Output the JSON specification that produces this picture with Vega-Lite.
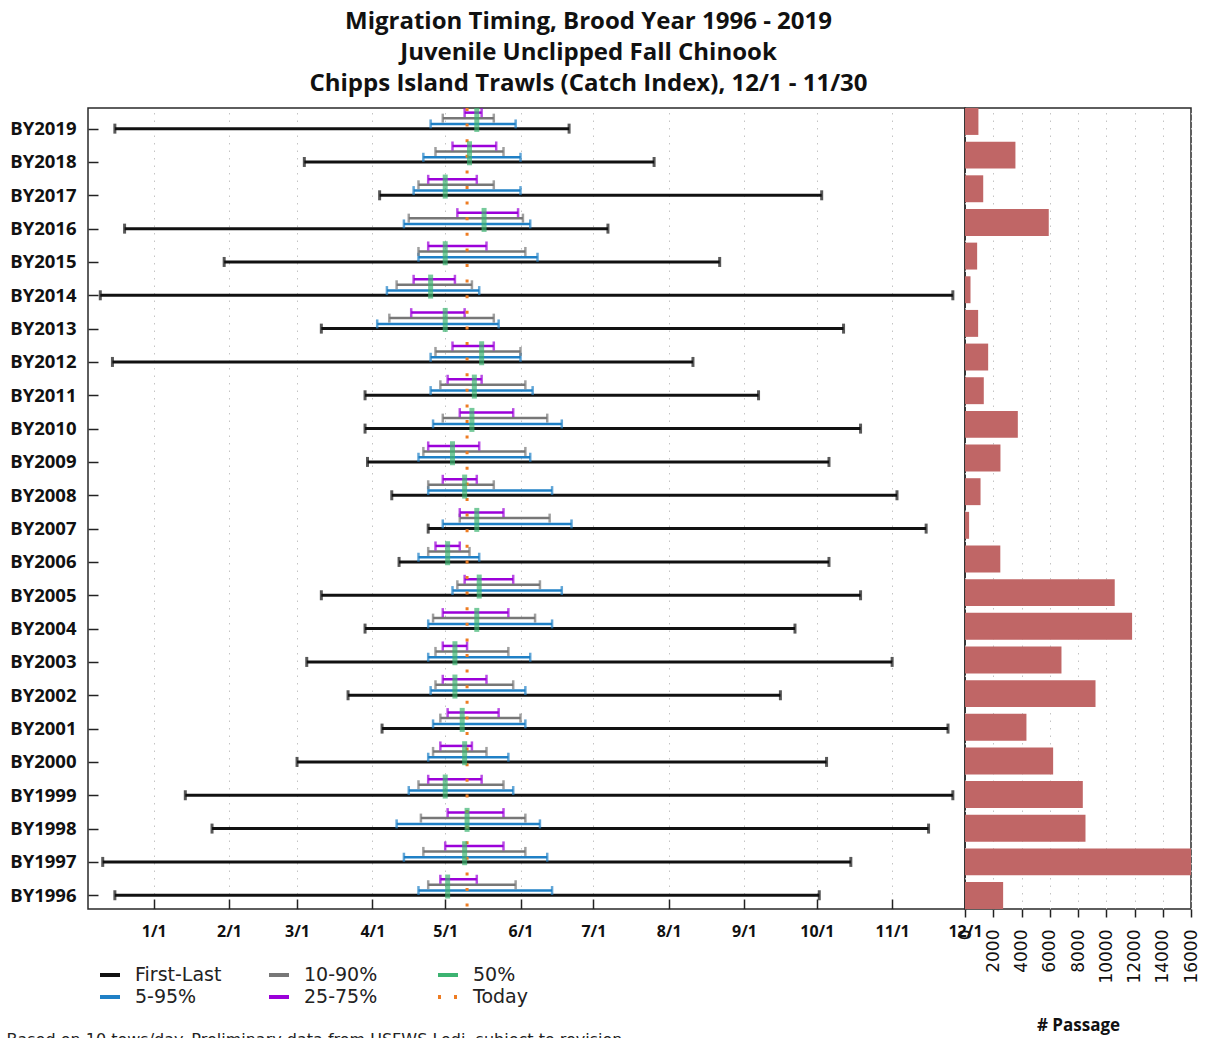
{
  "$schema": "https://vega.github.io/schema/vega-lite/v6.json",
  "padding": {"left": 5, "top": 9, "right": 5, "bottom": 5},
  "config": {
    "view": {"stroke": "#2a2a2a", "strokeWidth": 1.5},
    "font": "Open Sans",
    "axis": {"domain": false, "tickColor": "#222222", "tickWidth": 1.5, "gridColor": "#c4c4c4", "gridDash": [1.5, 6], "gridWidth": 1}
  },
  "title": {
    "text": ["Migration Timing, Brood Year 1996 - 2019", "Juvenile Unclipped Fall Chinook", "Chipps Island Trawls (Catch Index), 12/1 - 11/30"],
    "font": "Open Sans", "fontWeight": "bold", "fontSize": 24, "lineHeight": 31, "color": "#111111", "anchor": "middle", "offset": 10, "dx": -14
  },
  "datasets": {
    "timing": [
      {"by": "BY2019", "first": "2018-12-16", "last": "2019-06-21", "p5": "2019-04-25", "p95": "2019-05-30", "p10": "2019-04-30", "p90": "2019-05-21", "p25": "2019-05-09", "p75": "2019-05-16", "p50": "2019-05-14"},
      {"by": "BY2018", "first": "2019-03-04", "last": "2019-07-26", "p5": "2019-04-22", "p95": "2019-06-01", "p10": "2019-04-27", "p90": "2019-05-25", "p25": "2019-05-04", "p75": "2019-05-22", "p50": "2019-05-11"},
      {"by": "BY2017", "first": "2019-04-04", "last": "2019-10-03", "p5": "2019-04-18", "p95": "2019-06-01", "p10": "2019-04-20", "p90": "2019-05-21", "p25": "2019-04-24", "p75": "2019-05-14", "p50": "2019-05-01"},
      {"by": "BY2016", "first": "2018-12-20", "last": "2019-07-07", "p5": "2019-04-14", "p95": "2019-06-05", "p10": "2019-04-16", "p90": "2019-06-02", "p25": "2019-05-06", "p75": "2019-05-31", "p50": "2019-05-17"},
      {"by": "BY2015", "first": "2019-01-30", "last": "2019-08-22", "p5": "2019-04-20", "p95": "2019-06-08", "p10": "2019-04-20", "p90": "2019-06-03", "p25": "2019-04-24", "p75": "2019-05-18", "p50": "2019-05-01"},
      {"by": "BY2014", "first": "2018-12-10", "last": "2019-11-26", "p5": "2019-04-07", "p95": "2019-05-15", "p10": "2019-04-11", "p90": "2019-05-12", "p25": "2019-04-18", "p75": "2019-05-05", "p50": "2019-04-25"},
      {"by": "BY2013", "first": "2019-03-11", "last": "2019-10-12", "p5": "2019-04-03", "p95": "2019-05-23", "p10": "2019-04-08", "p90": "2019-05-21", "p25": "2019-04-17", "p75": "2019-05-09", "p50": "2019-05-01"},
      {"by": "BY2012", "first": "2018-12-15", "last": "2019-08-11", "p5": "2019-04-25", "p95": "2019-06-01", "p10": "2019-04-27", "p90": "2019-06-01", "p25": "2019-05-04", "p75": "2019-05-21", "p50": "2019-05-16"},
      {"by": "BY2011", "first": "2019-03-29", "last": "2019-09-07", "p5": "2019-04-25", "p95": "2019-06-06", "p10": "2019-04-29", "p90": "2019-06-03", "p25": "2019-05-02", "p75": "2019-05-16", "p50": "2019-05-13"},
      {"by": "BY2010", "first": "2019-03-29", "last": "2019-10-19", "p5": "2019-04-26", "p95": "2019-06-18", "p10": "2019-04-30", "p90": "2019-06-12", "p25": "2019-05-07", "p75": "2019-05-29", "p50": "2019-05-12"},
      {"by": "BY2009", "first": "2019-03-30", "last": "2019-10-06", "p5": "2019-04-20", "p95": "2019-06-05", "p10": "2019-04-22", "p90": "2019-06-03", "p25": "2019-04-24", "p75": "2019-05-15", "p50": "2019-05-04"},
      {"by": "BY2008", "first": "2019-04-09", "last": "2019-11-03", "p5": "2019-04-24", "p95": "2019-06-14", "p10": "2019-04-24", "p90": "2019-05-21", "p25": "2019-04-30", "p75": "2019-05-14", "p50": "2019-05-09"},
      {"by": "BY2007", "first": "2019-04-24", "last": "2019-11-15", "p5": "2019-04-30", "p95": "2019-06-22", "p10": "2019-05-07", "p90": "2019-06-13", "p25": "2019-05-07", "p75": "2019-05-25", "p50": "2019-05-14"},
      {"by": "BY2006", "first": "2019-04-12", "last": "2019-10-06", "p5": "2019-04-20", "p95": "2019-05-15", "p10": "2019-04-24", "p90": "2019-05-11", "p25": "2019-04-27", "p75": "2019-05-07", "p50": "2019-05-02"},
      {"by": "BY2005", "first": "2019-03-11", "last": "2019-10-19", "p5": "2019-05-04", "p95": "2019-06-18", "p10": "2019-05-06", "p90": "2019-06-09", "p25": "2019-05-09", "p75": "2019-05-29", "p50": "2019-05-15"},
      {"by": "BY2004", "first": "2019-03-29", "last": "2019-09-22", "p5": "2019-04-24", "p95": "2019-06-14", "p10": "2019-04-26", "p90": "2019-06-07", "p25": "2019-04-30", "p75": "2019-05-27", "p50": "2019-05-14"},
      {"by": "BY2003", "first": "2019-03-05", "last": "2019-11-01", "p5": "2019-04-24", "p95": "2019-06-05", "p10": "2019-04-27", "p90": "2019-05-27", "p25": "2019-04-30", "p75": "2019-05-10", "p50": "2019-05-05"},
      {"by": "BY2002", "first": "2019-03-22", "last": "2019-09-16", "p5": "2019-04-25", "p95": "2019-06-03", "p10": "2019-04-27", "p90": "2019-05-29", "p25": "2019-04-30", "p75": "2019-05-18", "p50": "2019-05-05"},
      {"by": "BY2001", "first": "2019-04-05", "last": "2019-11-24", "p5": "2019-04-26", "p95": "2019-06-03", "p10": "2019-04-29", "p90": "2019-06-01", "p25": "2019-05-02", "p75": "2019-05-23", "p50": "2019-05-08"},
      {"by": "BY2000", "first": "2019-03-01", "last": "2019-10-05", "p5": "2019-04-24", "p95": "2019-05-27", "p10": "2019-04-26", "p90": "2019-05-18", "p25": "2019-04-29", "p75": "2019-05-12", "p50": "2019-05-09"},
      {"by": "BY1999", "first": "2019-01-14", "last": "2019-11-26", "p5": "2019-04-16", "p95": "2019-05-29", "p10": "2019-04-20", "p90": "2019-05-25", "p25": "2019-04-24", "p75": "2019-05-16", "p50": "2019-05-01"},
      {"by": "BY1998", "first": "2019-01-25", "last": "2019-11-16", "p5": "2019-04-11", "p95": "2019-06-09", "p10": "2019-04-21", "p90": "2019-06-03", "p25": "2019-05-02", "p75": "2019-05-25", "p50": "2019-05-10"},
      {"by": "BY1997", "first": "2018-12-11", "last": "2019-10-15", "p5": "2019-04-14", "p95": "2019-06-12", "p10": "2019-04-22", "p90": "2019-06-03", "p25": "2019-05-01", "p75": "2019-05-25", "p50": "2019-05-09"},
      {"by": "BY1996", "first": "2018-12-16", "last": "2019-10-02", "p5": "2019-04-20", "p95": "2019-06-14", "p10": "2019-04-24", "p90": "2019-05-30", "p25": "2019-04-29", "p75": "2019-05-14", "p50": "2019-05-02"}
    ],
    "passage": [
      {"by": "BY2019", "n": 950}, {"by": "BY2018", "n": 3570}, {"by": "BY2017", "n": 1290}, {"by": "BY2016", "n": 5930},
      {"by": "BY2015", "n": 860}, {"by": "BY2014", "n": 390}, {"by": "BY2013", "n": 930}, {"by": "BY2012", "n": 1640},
      {"by": "BY2011", "n": 1330}, {"by": "BY2010", "n": 3740}, {"by": "BY2009", "n": 2510}, {"by": "BY2008", "n": 1100},
      {"by": "BY2007", "n": 290}, {"by": "BY2006", "n": 2500}, {"by": "BY2005", "n": 10600}, {"by": "BY2004", "n": 11830},
      {"by": "BY2003", "n": 6830}, {"by": "BY2002", "n": 9240}, {"by": "BY2001", "n": 4350}, {"by": "BY2000", "n": 6240},
      {"by": "BY1999", "n": 8340}, {"by": "BY1998", "n": 8530}, {"by": "BY1997", "n": 17000}, {"by": "BY1996", "n": 2700}
    ],
    "today": [{"today": "2019-05-10"}]
  },
  "spacing": 0,
  "bounds": "flush",
  "hconcat": [
    {
      "width": 877,
      "height": 801,
      "layer": [
        {
          "data": {"name": "timing"},
          "encoding": {
            "y": {
              "field": "by", "type": "nominal", "sort": "descending",
              "scale": {"type": "point", "padding": 0.516, "align": 0.6},
              "axis": {"title": null, "labelFont": "Open Sans", "labelFontWeight": "bold", "labelFontSize": 18.5, "labelColor": "#111111", "tickSize": -10, "labelPadding": 22, "minExtent": 82, "maxExtent": 82, "grid": false}
            }
          },
          "layer": [
            {
              "mark": {"type": "rule", "strokeWidth": 3},
              "encoding": {
                "x": {
                  "field": "first", "type": "temporal",
                  "scale": {"type": "utc", "nice": false, "domain": [{"year": 2018, "month": 12, "date": 4, "hours": 22, "minutes": 30, "utc": true}, {"year": 2019, "month": 12, "date": 1, "utc": true}]},
                  "axis": {
                    "values": [
                      {"year": 2019, "month": 1, "date": 1, "utc": true}, {"year": 2019, "month": 2, "date": 1, "utc": true},
                      {"year": 2019, "month": 3, "date": 1, "utc": true}, {"year": 2019, "month": 4, "date": 1, "utc": true},
                      {"year": 2019, "month": 5, "date": 1, "utc": true}, {"year": 2019, "month": 6, "date": 1, "utc": true},
                      {"year": 2019, "month": 7, "date": 1, "utc": true}, {"year": 2019, "month": 8, "date": 1, "utc": true},
                      {"year": 2019, "month": 9, "date": 1, "utc": true}, {"year": 2019, "month": 10, "date": 1, "utc": true},
                      {"year": 2019, "month": 11, "date": 1, "utc": true}, {"year": 2019, "month": 12, "date": 1, "utc": true}
                    ],
                    "labelExpr": "utcFormat(datum.value, '%-m/%-d')",
                    "labelFont": "Open Sans", "labelFontWeight": "bold", "labelFontSize": 16, "labelColor": "#111111",
                    "tickSize": -10, "labelPadding": 24, "grid": true, "labelOverlap": false, "labelFlush": false, "labelBound": false,
                    "title": "Based on 10 tows/day. Preliminary data from USFWS Lodi, subject to revision.",
                    "titleFont": "DejaVu Sans", "titleFontWeight": "normal", "titleFontSize": 16, "titleColor": "#222222",
                    "titleAnchor": "start", "titleAlign": "left", "titleBaseline": "top", "titleX": -82, "titleY": 122
                  }
                },
                "x2": {"field": "last"},
                "color": {
                  "datum": "First-Last", "type": "nominal",
                  "scale": {"domain": ["First-Last", "5-95%", "10-90%", "25-75%", "50%", "Today"], "range": ["#111111", "#1f80c6", "#777777", "#9b00d9", "#3cb371", "#ee7c22"]},
                  "legend": {
                    "title": null, "orient": "none", "legendX": 10, "legendY": 855, "columns": 3, "gridAlign": "all", "columnPadding": 39, "rowPadding": 0, "padding": 0,
                    "symbolType": "stroke", "symbolStrokeWidth": 4, "symbolSize": 400,
                    "labelFont": "DejaVu Sans", "labelFontSize": 19, "labelColor": "#222222", "labelOffset": 13,
                    "encode": {"symbols": {"update": {"strokeDash": {"signal": "datum.label === 'Today' ? [3, 13] : [1, 0]"}}}}
                  }
                }
              }
            },
            {"mark": {"type": "tick", "color": "#111111", "size": 10, "thickness": 3}, "encoding": {"x": {"field": "first", "type": "temporal"}}},
            {"mark": {"type": "tick", "color": "#111111", "size": 10, "thickness": 3}, "encoding": {"x": {"field": "last", "type": "temporal"}}},
            {
              "mark": {"type": "rule", "strokeWidth": 2.5, "yOffset": -4.7},
              "encoding": {"x": {"field": "p5", "type": "temporal"}, "x2": {"field": "p95"}, "color": {"datum": "5-95%", "type": "nominal"}}
            },
            {"mark": {"type": "tick", "color": "#1f80c6", "size": 9, "thickness": 2.5, "yOffset": -4.7}, "encoding": {"x": {"field": "p5", "type": "temporal"}}},
            {"mark": {"type": "tick", "color": "#1f80c6", "size": 9, "thickness": 2.5, "yOffset": -4.7}, "encoding": {"x": {"field": "p95", "type": "temporal"}}},
            {
              "mark": {"type": "rule", "strokeWidth": 2.5, "yOffset": -10.5},
              "encoding": {"x": {"field": "p10", "type": "temporal"}, "x2": {"field": "p90"}, "color": {"datum": "10-90%", "type": "nominal"}}
            },
            {"mark": {"type": "tick", "color": "#777777", "size": 9, "thickness": 2.5, "yOffset": -10.5}, "encoding": {"x": {"field": "p10", "type": "temporal"}}},
            {"mark": {"type": "tick", "color": "#777777", "size": 9, "thickness": 2.5, "yOffset": -10.5}, "encoding": {"x": {"field": "p90", "type": "temporal"}}},
            {
              "mark": {"type": "rule", "strokeWidth": 2.5, "yOffset": -16},
              "encoding": {"x": {"field": "p25", "type": "temporal"}, "x2": {"field": "p75"}, "color": {"datum": "25-75%", "type": "nominal"}}
            },
            {"mark": {"type": "tick", "color": "#9b00d9", "size": 9, "thickness": 2.5, "yOffset": -16}, "encoding": {"x": {"field": "p25", "type": "temporal"}}},
            {"mark": {"type": "tick", "color": "#9b00d9", "size": 9, "thickness": 2.5, "yOffset": -16}, "encoding": {"x": {"field": "p75", "type": "temporal"}}}
          ]
        },
        {
          "data": {"name": "today"},
          "mark": {"type": "rule", "strokeWidth": 3, "strokeDash": [3, 12.6]},
          "encoding": {"x": {"field": "today", "type": "temporal"}, "color": {"datum": "Today", "type": "nominal"}}
        },
        {
          "data": {"name": "timing"},
          "mark": {"type": "tick", "color": "#3cb371", "size": 24, "thickness": 5, "yOffset": -8.7},
          "encoding": {
            "x": {"field": "p50", "type": "temporal"},
            "y": {"field": "by", "type": "nominal", "sort": "descending"}
          }
        }
      ]
    },
    {
      "width": 226,
      "height": 801,
      "data": {"name": "passage"},
      "mark": {"type": "bar", "color": "#c06666", "clip": true},
      "encoding": {
        "y": {"field": "by", "type": "nominal", "sort": "descending", "scale": {"type": "band", "paddingInner": 0.2, "paddingOuter": 0}, "axis": null},
        "x": {
          "field": "n", "type": "quantitative",
          "scale": {"domain": [0, 16000], "nice": false},
          "axis": {
            "values": [0, 2000, 4000, 6000, 8000, 10000, 12000, 14000, 16000], "format": "d",
            "labelAngle": -90, "labelFont": "DejaVu Sans", "labelFontSize": 17, "labelColor": "#111111",
            "tickSize": 8, "labelPadding": 12, "labelFlush": false, "labelOverlap": false, "labelBound": false, "grid": true,
            "title": "# Passage", "titleFont": "Open Sans", "titleFontWeight": "bold", "titleFontSize": 17, "titleColor": "#111111", "titlePadding": 34
          }
        }
      }
    }
  ]
}
